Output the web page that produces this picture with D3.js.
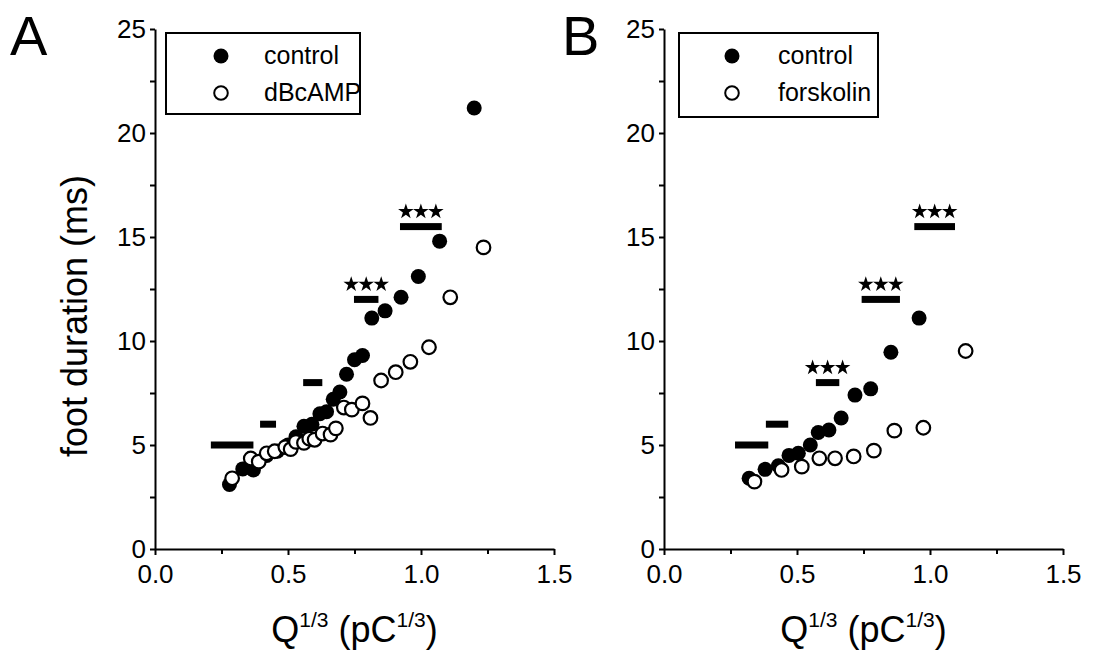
<!DOCTYPE html>
<html>
<head>
<meta charset="utf-8">
<script src="https://cdn.jsdelivr.net/npm/d3@7"></script>
<style>
  body { margin: 0; background: #fff; }
  text { font-family: Arial, "Liberation Sans", sans-serif; fill: #000; }
</style>
</head>
<body>
<svg id="chart" width="1093" height="658"></svg>
<script>
// axis ticks
const xTicks = [0, 0.5, 1.0, 1.5];
const xMinor = [0.25, 0.75, 1.25];
const yTicks = [0, 5, 10, 15, 20, 25];
const yMinor = [2.5, 7.5, 12.5, 17.5, 22.5];

// panel A: [Q^1/3, foot duration]
const aControl = [
  [0.28, 3.1], [0.33, 3.85], [0.37, 3.8], [0.42, 4.5], [0.46, 4.7], [0.50, 5.0],
  [0.53, 5.4], [0.56, 5.9], [0.59, 6.0], [0.62, 6.5], [0.645, 6.6], [0.67, 7.2],
  [0.695, 7.55], [0.72, 8.4], [0.75, 9.1], [0.78, 9.3], [0.815, 11.1], [0.865, 11.45],
  [0.925, 12.1], [0.99, 13.1], [1.07, 14.8], [1.20, 21.2]
];
const aDbcamp = [
  [0.29, 3.4], [0.36, 4.35], [0.39, 4.2], [0.42, 4.6], [0.45, 4.7], [0.49, 4.9],
  [0.51, 4.8], [0.53, 5.15], [0.56, 5.1], [0.58, 5.3], [0.60, 5.25], [0.63, 5.55],
  [0.66, 5.5], [0.68, 5.8], [0.71, 6.8], [0.74, 6.7], [0.78, 7.0], [0.81, 6.3],
  [0.85, 8.1], [0.905, 8.5], [0.96, 9.0], [1.03, 9.7], [1.11, 12.1], [1.235, 14.5]
];
// significance bars: [x start, x end, y, stars]
const aBars = [
  [0.21, 0.37, 5, ""], [0.395, 0.455, 6, ""], [0.557, 0.629, 8, ""],
  [0.748, 0.84, 12, "***"], [0.921, 1.078, 15.5, "***"]
];

// panel B
const bControl = [
  [0.32, 3.4], [0.38, 3.83], [0.43, 4.0], [0.47, 4.5], [0.505, 4.6], [0.55, 5.0],
  [0.58, 5.6], [0.62, 5.72], [0.666, 6.3], [0.718, 7.4], [0.777, 7.7], [0.853, 9.46],
  [0.959, 11.1]
];
const bForskolin = [
  [0.34, 3.24], [0.442, 3.8], [0.518, 3.96], [0.584, 4.36], [0.643, 4.36], [0.713, 4.45],
  [0.789, 4.73], [0.866, 5.69], [0.975, 5.83], [1.134, 9.52]
];
const bBars = [
  [0.267, 0.392, 5, ""], [0.383, 0.467, 6, ""], [0.571, 0.659, 8, "***"],
  [0.743, 0.887, 12, "***"], [0.941, 1.094, 15.5, "***"]
];

const svg = d3.select("#chart");

function drawPanel(cfg) {
  const x = d3.scaleLinear().domain([0, 1.5]).range([cfg.left, cfg.left + 399]);
  const y = d3.scaleLinear().domain([0, 25]).range([549, 29]);
  const g = svg.append("g");

  // minor ticks
  g.append("g").attr("transform", "translate(0,549)")
    .call(d3.axisBottom(x).tickValues(xMinor).tickSize(5).tickFormat(""))
    .call(a => a.select(".domain").remove());
  g.append("g").attr("transform", `translate(${cfg.left},0)`)
    .call(d3.axisLeft(y).tickValues(yMinor).tickSize(5).tickFormat(""))
    .call(a => a.select(".domain").remove());

  const xa = g.append("g").attr("transform", "translate(0,549)")
    .call(d3.axisBottom(x).tickValues(xTicks).tickSize(6).tickSizeOuter(0).tickPadding(10).tickFormat(d3.format(".1f")));
  const ya = g.append("g").attr("transform", `translate(${cfg.left},0)`)
    .call(d3.axisLeft(y).tickValues(yTicks).tickSize(5).tickSizeOuter(0).tickPadding(4));
  [xa, ya].forEach(a => {
    a.selectAll("text").style("font-size", "26px").attr("fill", "#000");
    a.selectAll("line, path").attr("stroke", "#000").attr("stroke-width", 2);
  });
  g.selectAll(".tick line").attr("stroke", "#000").attr("stroke-width", 2);

  // x title
  const xt = g.append("text")
    .attr("x", (cfg.left * 2 + 399) / 2).attr("y", 642)
    .attr("text-anchor", "middle").style("font-size", "36px");
  xt.append("tspan").text("Q");
  xt.append("tspan").attr("dy", -15).style("font-size", "21px").text("1/3");
  xt.append("tspan").attr("dy", 15).text(" (pC");
  xt.append("tspan").attr("dy", -15).style("font-size", "21px").text("1/3");
  xt.append("tspan").attr("dy", 15).text(")");

  // significance bars
  g.append("g").selectAll("rect").data(cfg.bars).join("rect")
    .attr("x", d => x(d[0])).attr("width", d => x(d[1]) - x(d[0]))
    .attr("y", d => y(d[2]) - 3.5).attr("height", 7).attr("fill", "#000");
  const starSym = d3.symbol(d3.symbolStar, 75);
  cfg.bars.filter(d => d[3]).forEach(d => {
    const cx = x((d[0] + d[1]) / 2);
    [-15, 0, 15].forEach(dx => {
      g.append("path").attr("d", starSym())
        .attr("transform", `translate(${cx + dx},${y(d[2]) - 15})`)
        .attr("fill", "#000");
    });
  });

  // points
  g.append("g").selectAll("circle").data(cfg.filled).join("circle")
    .attr("cx", d => x(d[0])).attr("cy", d => y(d[1])).attr("r", 7.5).attr("fill", "#000");
  g.append("g").selectAll("circle").data(cfg.open).join("circle")
    .attr("cx", d => x(d[0])).attr("cy", d => y(d[1])).attr("r", 6.8)
    .attr("fill", "#fff").attr("stroke", "#000").attr("stroke-width", 2.2);

  // legend
  const L = cfg.legend;
  g.append("rect").attr("x", L.x).attr("y", L.y).attr("width", L.w).attr("height", L.h)
    .attr("fill", "#fff").attr("stroke", "#000").attr("stroke-width", 2);
  g.append("circle").attr("cx", L.mx).attr("cy", L.y + 23).attr("r", 7.5).attr("fill", "#000");
  g.append("circle").attr("cx", L.mx).attr("cy", L.y + 60).attr("r", 6.8)
    .attr("fill", "#fff").attr("stroke", "#000").attr("stroke-width", 2);
  g.append("text").attr("x", L.tx).attr("y", L.y + 31).style("font-size", "25px").text(cfg.names[0]);
  g.append("text").attr("x", L.tx).attr("y", L.y + 68).style("font-size", "25px").text(cfg.names[1]);

  // panel letter
  g.append("text").attr("x", cfg.letterX).attr("y", 55).style("font-size", "56px").text(cfg.letter);
}

drawPanel({
  left: 155, filled: aControl, open: aDbcamp, bars: aBars,
  names: ["control", "dBcAMP"], letter: "A", letterX: 10,
  legend: { x: 166, y: 33, w: 194, h: 81, mx: 221, tx: 264 }
});
drawPanel({
  left: 664, filled: bControl, open: bForskolin, bars: bBars,
  names: ["control", "forskolin"], letter: "B", letterX: 562,
  legend: { x: 679, y: 33, w: 199, h: 84, mx: 732, tx: 778 }
});

// y title (panel A only)
svg.append("text")
  .attr("transform", "translate(87,316) rotate(-90)")
  .attr("text-anchor", "middle").style("font-size", "36px")
  .text("foot duration (ms)");
</script>
</body>
</html>
